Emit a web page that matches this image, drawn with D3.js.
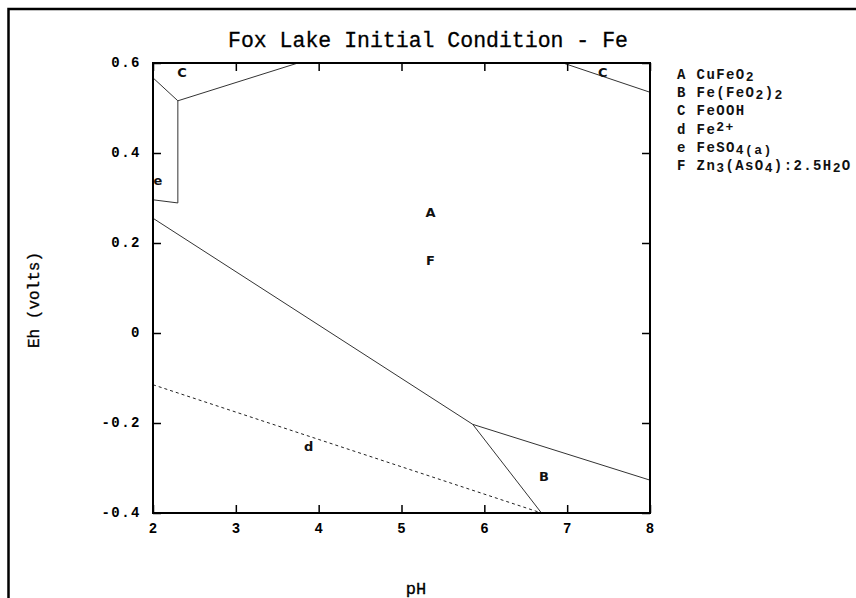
<!DOCTYPE html>
<html>
<head>
<meta charset="utf-8">
<script src="https://cdn.jsdelivr.net/npm/d3@7/dist/d3.min.js"></script>
<style>
  html, body { margin: 0; padding: 0; background: #fff; }
  svg { display: block; }
</style>
</head>
<body>
<svg id="chart" width="856" height="598"></svg>
<script>
// Eh-pH predominance diagram for Fe, Fox Lake initial condition
const title = "Fox Lake Initial Condition - Fe";
const xTicks = [2, 3, 4, 5, 6, 7, 8];
const yTicks = [-0.4, -0.2, 0, 0.2, 0.4, 0.6];
const xDomain = [2, 8];
const yDomain = [-0.4, 0.6];

// Field boundaries as [pH, Eh] vertices
const boundaryAF_d = [[2, 0.255], [5.86, -0.203]];
const boundaryB_top = [[5.86, -0.203], [8, -0.327]];
const boundaryB_left = [[5.86, -0.203], [6.69, -0.4]];
const boundaryC_left = [[2, 0.567], [2.3, 0.516], [3.75, 0.6]];
const boundaryE = [[2.3, 0.516], [2.3, 0.289], [2, 0.296]];
const boundaryC_right = [[6.95, 0.6], [8, 0.535]];
const waterLimit = [[2, -0.115], [6.69, -0.4]];

// Field labels
const fieldKeys = ["A", "F", "C", "C", "e", "d", "B"];
const fieldPH = [5.35, 5.35, 2.35, 7.43, 2.06, 3.88, 6.72];
const fieldEh = [0.268, 0.162, 0.578, 0.578, 0.34, -0.253, -0.318];

// Legend: species key and formula pieces ("n" normal, "sub" subscript, "sup" superscript)
const legendKeys = ["A", "B", "C", "d", "e", "F"];
const legendFormulas = [
  [["CuFeO", "n"], ["2", "sub"]],
  [["Fe(FeO", "n"], ["2", "sub"], [")", "n"], ["2", "sub"]],
  [["FeOOH", "n"]],
  [["Fe", "n"], ["2+", "sup"]],
  [["FeSO", "n"], ["4(a)", "sub"]],
  [["Zn", "n"], ["3", "sub"], ["(AsO", "n"], ["4", "sub"], ["):2.5H", "n"], ["2", "sub"], ["O", "n"]]
];

const svg = d3.select("#chart");
const font = "'Liberation Mono', 'Courier New', 'DejaVu Sans Mono', monospace";

// outer frame (only top and left edges fall on the page)
svg.append("path")
  .attr("d", "M8.5,600 L8.5,9 L860,9")
  .attr("fill", "none").attr("stroke", "#000").attr("stroke-width", 2.5);

const plot = { left: 153, right: 650, top: 63, bottom: 513 };
const x = d3.scaleLinear().domain(xDomain).range([plot.left, plot.right]);
const y = d3.scaleLinear().domain(yDomain).range([plot.bottom, plot.top]);

// title
svg.append("text")
  .attr("x", 428).attr("y", 47)
  .attr("text-anchor", "middle")
  .attr("font-family", font).attr("font-size", 21.5)
  .attr("fill", "#000").attr("stroke", "#000").attr("stroke-width", 0.3)
  .text(title);

// boundaries
const line = d3.line().x(d => x(d[0])).y(d => y(d[1]));
const g = svg.append("g");
[boundaryAF_d, boundaryB_top, boundaryB_left, boundaryC_left, boundaryE, boundaryC_right].forEach(pts => {
  g.append("path").attr("d", line(pts))
    .attr("fill", "none").attr("stroke", "#333").attr("stroke-width", 1);
});
g.append("path").attr("d", line(waterLimit))
  .attr("fill", "none").attr("stroke", "#222").attr("stroke-width", 1)
  .attr("stroke-dasharray", "3,3");

// field labels
g.selectAll("text.field").data(fieldKeys).join("text")
  .attr("class", "field")
  .attr("x", (d, i) => x(fieldPH[i])).attr("y", (d, i) => y(fieldEh[i]))
  .attr("text-anchor", "middle").attr("dominant-baseline", "central")
  .attr("font-family", "'DejaVu Sans', sans-serif").attr("font-weight", "bold")
  .attr("font-size", 13).attr("fill", "#111")
  .text(d => d);

// axes with inward ticks on all four sides
const tickLen = 8;
const axisStyle = sel => {
  sel.select(".domain").remove();
  sel.selectAll(".tick line").attr("stroke", "#000").attr("stroke-width", 1.5);
  sel.selectAll(".tick text").remove();
};
svg.append("g").attr("transform", `translate(0,${plot.bottom})`)
  .call(d3.axisTop(x).tickValues(xTicks).tickSize(tickLen)).call(axisStyle);
svg.append("g").attr("transform", `translate(0,${plot.top})`)
  .call(d3.axisBottom(x).tickValues(xTicks).tickSize(tickLen)).call(axisStyle);
svg.append("g").attr("transform", `translate(${plot.left},0)`)
  .call(d3.axisRight(y).tickValues(yTicks).tickSize(tickLen)).call(axisStyle);
svg.append("g").attr("transform", `translate(${plot.right},0)`)
  .call(d3.axisLeft(y).tickValues(yTicks).tickSize(tickLen)).call(axisStyle);

// plot border
svg.append("rect")
  .attr("x", plot.left).attr("y", plot.top)
  .attr("width", plot.right - plot.left).attr("height", plot.bottom - plot.top)
  .attr("fill", "none").attr("stroke", "#000").attr("stroke-width", 2);

// tick labels
const fmtY = d => (d === 0 ? "0" : d3.format(".1f")(d)).replace("−", "-");
svg.selectAll("text.ylab").data(yTicks).join("text")
  .attr("class", "ylab")
  .attr("x", plot.left - 12).attr("y", d => y(d))
  .attr("text-anchor", "end").attr("dominant-baseline", "central")
  .attr("font-family", font).attr("font-weight", "bold").attr("font-size", 14)
  .attr("letter-spacing", 1.5)
  .text(d => fmtY(d));
svg.selectAll("text.xlab").data(xTicks).join("text")
  .attr("class", "xlab")
  .attr("x", d => x(d)).attr("y", plot.bottom + 16)
  .attr("text-anchor", "middle").attr("dominant-baseline", "central")
  .attr("font-family", font).attr("font-weight", "bold").attr("font-size", 14)
  .text(d => d);

// axis titles
svg.append("text")
  .attr("transform", "translate(35,300) rotate(-90)")
  .attr("text-anchor", "middle").attr("dominant-baseline", "central")
  .attr("font-family", font).attr("font-size", 16).attr("fill", "#000")
  .attr("stroke", "#000").attr("stroke-width", 0.3)
  .text("Eh (volts)");
svg.append("text")
  .attr("x", 416).attr("y", 589)
  .attr("text-anchor", "middle").attr("dominant-baseline", "central")
  .attr("font-family", font).attr("font-size", 17).attr("fill", "#000")
  .attr("stroke", "#000").attr("stroke-width", 0.3)
  .text("pH");

// legend
const legend = svg.append("g");
legendKeys.forEach((k, i) => {
  const t = legend.append("text")
    .attr("x", 677).attr("y", 79 + i * 18.2)
    .attr("font-family", font).attr("font-weight", "bold").attr("font-size", 14)
    .attr("letter-spacing", 1.4)
    .attr("fill", "#111");
  t.append("tspan").text(k + " ");
  legendFormulas[i].forEach(([s, kind]) => {
    const sp = t.append("tspan").text(s);
    if (kind === "sub") sp.attr("baseline-shift", "-2").attr("font-size", 13);
    if (kind === "sup") sp.attr("baseline-shift", "3").attr("font-size", 13);
  });
});
</script>
</body>
</html>
